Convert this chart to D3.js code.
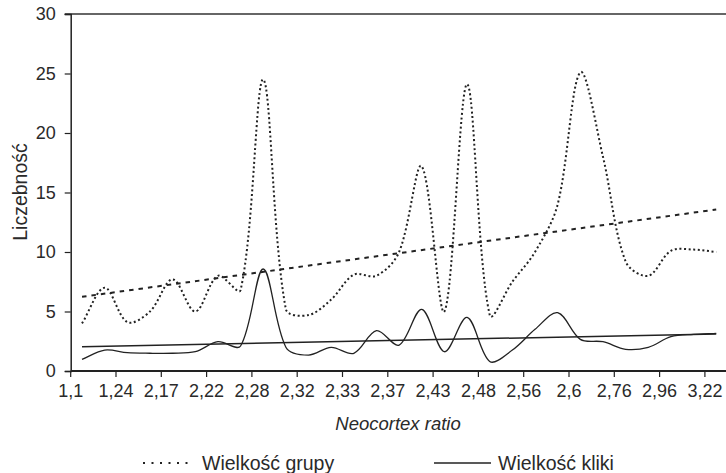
<!DOCTYPE html>
<html>
<head>
<meta charset="utf-8">
<script src="https://cdn.jsdelivr.net/npm/d3@7"></script>
<style>
    body { margin: 0; background: #fff; }
    svg { display: block; font-family: "Liberation Sans", Arial, sans-serif; }
</style>
</head>
<body>
<svg id="chart" width="726" height="473"></svg>
<script>
// tick labels (one every second category)
var tickLabels = ["1,1", "1,24", "2,17", "2,22", "2,28", "2,32", "2,33", "2,37",
    "2,43", "2,48", "2,56", "2,6", "2,76", "2,96", "3,22"];

// 29 categories
var categories = d3.range(29);

// Wielkość grupy
var groupSize = [4.0, 7.0, 4.1, 5.0, 7.7, 5.0, 8.0, 6.8, 24.5, 5.2, 4.7, 6.0, 8.1, 8.0, 10.0,
    17.2, 5.0, 24.1, 4.7, 7.5, 10.0, 14.0, 25.1, 18.0, 9.2, 8.0, 10.1, 10.2, 10.0];

// Wielkość kliki
var cliqueSize = [0.98, 1.76, 1.54, 1.49, 1.49, 1.62, 2.46, 2.1, 8.57, 2.0, 1.34, 1.99, 1.49, 3.39, 2.18,
    5.18, 1.62, 4.5, 0.8, 1.76, 3.5, 4.9, 2.66, 2.46, 1.82, 1.99, 2.88, 3.08, 3.17];

var yTicks = [0, 5, 10, 15, 20, 25, 30];

var svg = d3.select("#chart"),
        plotLeft = 70.7,
        plotTop = 14,
        plotBottom = 371,
        band = 22.65,
        fontSize = 18,
        bigFont = 19.5,
        ink = "#222",
        textInk = "#2a2a2a";

var x = d3.scaleBand()
        .domain(categories)
        .range([plotLeft, plotLeft + band * categories.length]);

var y = d3.scaleLinear()
        .domain([0, 30])
        .range([plotBottom, plotTop]);

function cx(i) {
    return x(i) + x.bandwidth() / 2;
}

// top border line
svg.append("line")
        .attr("x1", plotLeft - 6).attr("x2", 726)
        .attr("y1", y(30)).attr("y2", y(30))
        .attr("stroke", "#333").attr("stroke-width", 1.5);

// y axis
var yAxis = svg.append("g")
        .attr("transform", "translate(" + plotLeft + ",0)")
        .call(d3.axisLeft(y).tickValues(yTicks).tickSize(6).tickPadding(9).tickFormat(d3.format("d")));
yAxis.select(".domain").attr("stroke", ink).attr("stroke-width", 1.5);
yAxis.selectAll(".tick line").attr("stroke", ink).attr("stroke-width", 1.2);
yAxis.selectAll("text").attr("font-size", fontSize).attr("fill", textInk)
        .attr("font-family", "'Liberation Sans', Arial, sans-serif");

// x axis: ticks between every two categories
var tickIdx = d3.range(0, categories.length, 2);
var xAxis = svg.append("g")
        .attr("transform", "translate(0," + plotBottom + ")");
xAxis.append("line")
        .attr("x1", plotLeft).attr("x2", 726)
        .attr("y1", 0).attr("y2", 0)
        .attr("stroke", ink).attr("stroke-width", 2);
xAxis.selectAll(".xt")
        .data(tickIdx)
        .enter().append("line")
        .attr("x1", function (d) { return x(d); })
        .attr("x2", function (d) { return x(d); })
        .attr("y1", 0).attr("y2", 6)
        .attr("stroke", ink).attr("stroke-width", 1.2);
xAxis.selectAll(".xl")
        .data(tickIdx)
        .enter().append("text")
        .attr("x", function (d) { return x(d); })
        .attr("y", 26)
        .attr("text-anchor", "middle")
        .attr("font-size", fontSize)
        .attr("fill", textInk)
        .text(function (d, i) { return tickLabels[i]; });

// axis titles
svg.append("text")
        .attr("x", 398).attr("y", 430)
        .attr("text-anchor", "middle")
        .attr("font-size", 18.5).attr("font-style", "italic")
        .attr("fill", textInk)
        .text("Neocortex ratio");

svg.append("text")
        .attr("transform", "translate(27,192) rotate(-90)")
        .attr("text-anchor", "middle")
        .attr("font-size", bigFont)
        .attr("fill", textInk)
        .text("Liczebność");

// linear trend over category index
function trend(values) {
    var n = values.length,
            mx = d3.mean(categories),
            my = d3.mean(values),
            sxy = 0, sxx = 0;
    for (var i = 0; i < n; i++) {
        sxy += (i - mx) * (values[i] - my);
        sxx += (i - mx) * (i - mx);
    }
    var b = sxy / sxx, a = my - b * mx;
    return [0, n - 1].map(function (i) { return [i, a + b * i]; });
}

// spreadsheet-like smoothing: bezier handles weighted by neighbouring chord lengths
function smoothPath(values) {
    var pts = values.map(function (v, i) { return [cx(i), y(v)]; }),
            p = d3.path(),
            n = pts.length;
    function dist(a, b) {
        return Math.hypot(b[0] - a[0], b[1] - a[1]);
    }
    p.moveTo(pts[0][0], pts[0][1]);
    for (var i = 0; i < n - 1; i++) {
        var p0 = pts[Math.max(i - 1, 0)],
                p1 = pts[i],
                p2 = pts[i + 1],
                p3 = pts[Math.min(i + 2, n - 1)],
                d01 = dist(p0, p1), d12 = dist(p1, p2), d23 = dist(p2, p3),
                f1 = d12 / (d01 + d12) / 3,
                f2 = d12 / (d12 + d23) / 3;
        p.bezierCurveTo(
                p1[0] + (p2[0] - p0[0]) * f1, p1[1] + (p2[1] - p0[1]) * f1,
                p2[0] - (p3[0] - p1[0]) * f2, p2[1] - (p3[1] - p1[1]) * f2,
                p2[0], p2[1]);
    }
    return p.toString();
}

var straight = d3.line()
        .x(function (d) { return cx(d[0]); })
        .y(function (d) { return y(d[1]); });

// trend lines
svg.append("path")
        .attr("d", straight(trend(groupSize)))
        .attr("fill", "none").attr("stroke", ink)
        .attr("stroke-width", 2).attr("stroke-dasharray", "4.5,5");

svg.append("path")
        .attr("d", straight(trend(cliqueSize)))
        .attr("fill", "none").attr("stroke", ink)
        .attr("stroke-width", 1.5);

// series
svg.append("path")
        .attr("d", smoothPath(groupSize))
        .attr("fill", "none").attr("stroke", ink)
        .attr("stroke-width", 2).attr("stroke-dasharray", "2,2.6");

svg.append("path")
        .attr("d", smoothPath(cliqueSize))
        .attr("fill", "none").attr("stroke", ink)
        .attr("stroke-width", 1.3);

// legend
var legend = svg.append("g").attr("transform", "translate(0,463)");
legend.append("line")
        .attr("x1", 143).attr("x2", 193).attr("y1", 0).attr("y2", 0)
        .attr("stroke", ink).attr("stroke-width", 2).attr("stroke-dasharray", "2,6.5");
legend.append("text")
        .attr("x", 202).attr("y", 7)
        .attr("font-size", bigFont).attr("fill", textInk)
        .text("Wielkość grupy");
legend.append("line")
        .attr("x1", 434).attr("x2", 491).attr("y1", 0).attr("y2", 0)
        .attr("stroke", ink).attr("stroke-width", 1.3);
legend.append("text")
        .attr("x", 498).attr("y", 7)
        .attr("font-size", bigFont).attr("fill", textInk)
        .text("Wielkość kliki");
</script>
</body>
</html>
